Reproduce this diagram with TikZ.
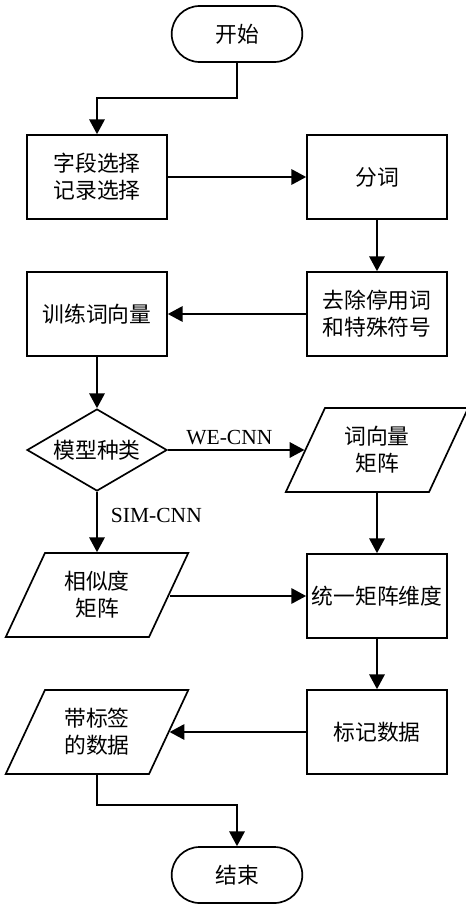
\documentclass[tikz,border=0pt]{standalone}
\usepackage{fontspec}
\setmainfont{Liberation Serif}
\newfontfamily\cjk{Noto Sans CJK SC}
\usetikzlibrary{arrows.meta,shapes.geometric,shapes.misc}
\tikzset{
	line/.style={line width=1.2pt},
	arr/.style={line, -{Triangle[length=10.5pt, width=11pt]}},
	proc/.style={draw, line, rectangle, minimum width=3.5cm, minimum height=2.1cm, align=center, font=\cjk\fontsize{15.5}{19}\selectfont},
	term/.style={draw, line, rounded rectangle, minimum width=3.5cm, minimum height=1.4cm, font=\cjk\fontsize{15.5}{19}\selectfont},
	choice/.style={draw, line, diamond, aspect=1.7, minimum width=3.5cm, minimum height=2.05cm, inner sep=0pt, font=\cjk\fontsize{15.5}{19}\selectfont},
	io/.style={draw, line, trapezium, trapezium left angle=63.4, trapezium right angle=116.6, trapezium stretches=true, minimum width=4.575cm, minimum height=2.1cm, align=center, font=\cjk\fontsize{15.5}{19}\selectfont},
	tag/.style={font=\fontsize{15.3}{18}\selectfont}
}

\begin{document}
\begin{tikzpicture}
			%%%%% START %%%%%
			
			\useasboundingbox (0, 0) rectangle (11.625, -22.75);
			
			\node[term] (start) at (5.925, -0.85) {开始};
			\node[proc] (select) at (2.425, -4.425) {字段选择\\记录选择};
			\node[proc] (seg) at (9.425, -4.425) {分词};
			\node[proc] (clean) at (9.425, -7.85) {去除停用词\\和特殊符号};
			\node[proc] (train) at (2.425, -7.85) {训练词向量};
			\node[choice] (kind) at (2.425, -11.25) {模型种类};
			\node[io] (wvec) at (9.425, -11.25) {词向量\\矩阵};
			\node[io] (simmat) at (2.425, -14.875) {相似度\\矩阵};
			\node[proc] (unify) at (9.425, -14.9) {统一矩阵维度};
			\node[proc] (mark) at (9.425, -18.3) {标记数据};
			\node[io] (labeled) at (2.425, -18.3) {带标签\\的数据};
			\node[term] (stop) at (5.925, -21.875) {结束};
			
			\draw[arr] (start.south) -- ++(0, -0.875) -| (select.north);
			\draw[arr] (select) -- (seg);
			\draw[arr] (seg) -- (clean);
			\draw[arr] (clean) -- (train);
			\draw[arr] (train) -- (kind);
			\draw[arr] (kind) -- node[tag, above, pos=0.45] (we) {WE-CNN} (wvec);
			\draw[arr] (kind) -- node[tag, right=6pt, pos=0.4] (sim) {SIM-CNN} (simmat);
			\draw[arr] (wvec) -- (unify);
			\draw[arr] (simmat.east |- unify) -- (unify);
			\draw[arr] (unify) -- (mark);
			\draw[arr] (mark) -- (labeled);
			\draw[arr] (labeled.south) -- ++(0, -0.75) -| (stop.north);
			
			%%%%% END %%%%%
		\end{tikzpicture}
\end{document}
